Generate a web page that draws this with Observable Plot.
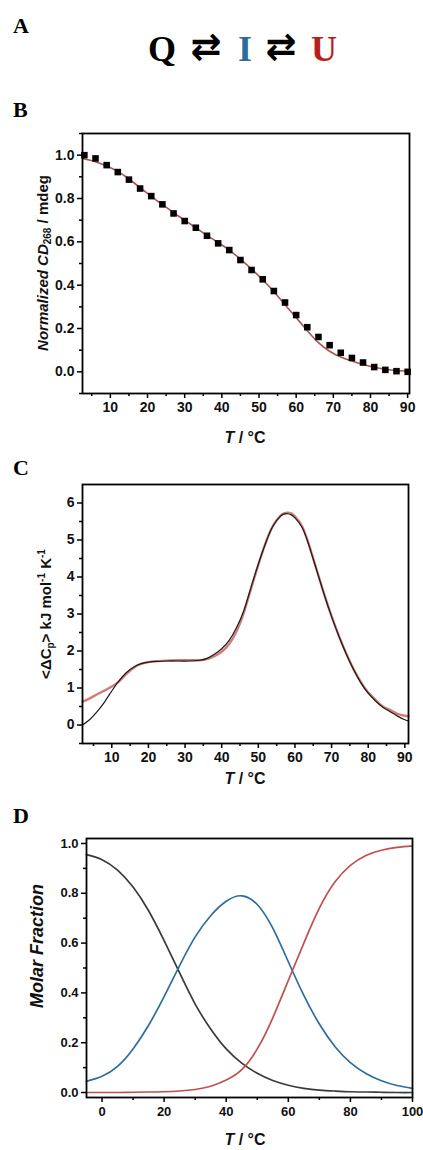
<!DOCTYPE html>
<html><head><meta charset="utf-8">
<script src="https://cdn.jsdelivr.net/npm/d3@7"></script>
<script src="https://cdn.jsdelivr.net/npm/@observablehq/plot@0.6"></script>
<style>
body{margin:0;background:#fff;}
#page{position:relative;width:423px;height:1150px;overflow:hidden;}
#page svg.plot{position:absolute;left:0;}
#overlay{position:absolute;left:0;top:0;pointer-events:none;}
</style></head><body><div id="page"></div>
<script>
// ---------- Panel B data ----------
const tempB = [3,6,9,12,15,18,21,24,27,30,33,36,39,42,45,48,51,54,57,60,63,66,69,72,75,78,81,84,87,90];
const cdB   = [1.0,0.985,0.954,0.922,0.887,0.846,0.811,0.773,0.731,0.696,0.665,0.628,0.593,0.562,0.516,0.47,0.427,0.373,0.32,0.262,0.206,0.161,0.123,0.088,0.064,0.043,0.022,0.009,0.003,0.0];
const fitTempB = [2.5,6,9,12,15,18,21,24,27,30,33,36,39,42,45,48,51,54,57,60,63,66,69,72,75,78,81,84,87,90.5];
const fitCdB   = [0.985,0.97,0.95,0.925,0.89,0.85,0.81,0.772,0.735,0.70,0.665,0.63,0.597,0.562,0.52,0.474,0.425,0.37,0.31,0.25,0.19,0.135,0.095,0.068,0.05,0.034,0.021,0.012,0.006,0.003];

// ---------- Panel C data ----------
const tempC = [2,4,6,8,10,12,14,16,18,20,22,25,28,31,34,36,38,40,42,44,46,48,50,52,54,56,57,58,59,60,62,64,66,68,70,72,74,76,78,80,82,84,86,88,90,91];
const cpExp = [0.0,0.15,0.36,0.62,0.92,1.2,1.42,1.57,1.66,1.7,1.72,1.73,1.73,1.73,1.75,1.8,1.91,2.06,2.28,2.62,3.08,3.72,4.35,4.92,5.38,5.64,5.7,5.71,5.68,5.6,5.33,4.8,4.16,3.52,2.93,2.4,1.92,1.5,1.14,0.86,0.65,0.48,0.36,0.24,0.14,0.11];
const cpFit = [0.63,0.72,0.83,0.93,1.04,1.18,1.38,1.55,1.65,1.7,1.72,1.74,1.75,1.75,1.75,1.78,1.86,1.98,2.18,2.52,3.02,3.68,4.33,4.92,5.38,5.65,5.72,5.74,5.72,5.64,5.36,4.82,4.17,3.53,2.94,2.41,1.93,1.51,1.16,0.88,0.68,0.5,0.4,0.3,0.25,0.235];

// ---------- Panel D data ----------
const tempD = [-5,0,5,10,15,20,25,30,35,40,45,50,55,60,65,70,75,80,85,90,95,100];
const fracQ = [0.955,0.935,0.893,0.825,0.73,0.61,0.48,0.355,0.255,0.175,0.118,0.077,0.048,0.029,0.017,0.01,0.006,0.003,0.002,0.001,0.0,0.0];
const fracI = [0.045,0.065,0.105,0.175,0.27,0.385,0.51,0.625,0.71,0.768,0.79,0.755,0.66,0.525,0.39,0.275,0.185,0.12,0.076,0.047,0.028,0.017];
const fracU = [0.0,0.0,0.0,0.001,0.002,0.003,0.006,0.012,0.025,0.05,0.092,0.175,0.3,0.45,0.6,0.74,0.845,0.912,0.952,0.973,0.984,0.99];

// ---------- Ticks ----------
const majorBx = [10,20,30,40,50,60,70,80,90];
const minorBx = [5,15,25,35,45,55,65,75,85];
const majorBy = [0,0.2,0.4,0.6,0.8,1.0];
const minorBy = [-0.1,0.1,0.3,0.5,0.7,0.9,1.1];
const majorCy = [0,1,2,3,4,5,6];
const minorCy = [-0.5,0.5,1.5,2.5,3.5,4.5,5.5];
const majorDx = [0,20,40,60,80,100];
const minorDx = [10,30,50,70,90];
const majorDy = [0,0.2,0.4,0.6,0.8,1.0];
const minorDy = [0.1,0.3,0.5,0.7,0.9];

const ptsB = tempB.map((T,i)=>({T, v: cdB[i]}));
const fitB = fitTempB.map((T,i)=>({T, v: fitCdB[i]}));
const expC = tempC.map((T,i)=>({T, v: cpExp[i]}));
const fitC = tempC.map((T,i)=>({T, v: cpFit[i]}));
const seriesD = [
  {name:"Q", vals: fracQ, color:"#3b3b3b"},
  {name:"I", vals: fracI, color:"#2f6d9e"},
  {name:"U", vals: fracU, color:"#c0504f"}
];
const dataD = seriesD.flatMap(s => tempD.map((T,i)=>({T, v: s.vals[i], s: s.name})));

const FONT = "Liberation Sans, Arial, Helvetica, sans-serif";
function axes(xMajor, xMinor, yMajor, yMinor, fmtY, fs) {
  const common = {stroke:"#000", strokeWidth:1.5, label:null};
  return [
    Plot.axisX({...common, ticks:xMajor, tickSize:5, tickPadding:4, tickFormat:d=>String(d), fill:"#111", fontSize:fs}),
    Plot.axisX({...common, ticks:xMinor, tickSize:3, fill:"none"}),
    Plot.axisY({...common, ticks:yMajor, tickSize:5, tickPadding:3, tickFormat:fmtY, fill:"#111", fontSize:fs}),
    Plot.axisY({...common, ticks:yMinor, tickSize:3, fill:"none"})
  ];
}
const style = {fontFamily: FONT, fontWeight:"bold", fontSize:"14px", background:"transparent", overflow:"visible"};

const plotB = Plot.plot({
  width:423, height:330, marginLeft:82, marginRight:14, marginTop:13, marginBottom:57,
  x:{domain:[2.5,90.5]}, y:{domain:[-0.1,1.1]}, style,
  marks:[
    Plot.line(fitB, {x:"T", y:"v", stroke:"#b0524e", strokeWidth:1.6, curve:"natural"}),
    Plot.dot(ptsB, {x:"T", y:"v", symbol:"square", fill:"#000", r:3.7}),
    Plot.frame({stroke:"#000", strokeWidth:1.8}),
    ...axes(majorBx, minorBx, majorBy, minorBy, d3.format(".1f"), 14)
  ]
});
const plotC = Plot.plot({
  width:423, height:320, marginLeft:82, marginRight:15, marginTop:14, marginBottom:47,
  x:{domain:[2,91]}, y:{domain:[-0.5,6.5]}, style,
  marks:[
    Plot.line(fitC, {x:"T", y:"v", stroke:"#d07d7a", strokeWidth:2.4, curve:"natural"}),
    Plot.line(expC, {x:"T", y:"v", stroke:"#1a1a1a", strokeWidth:1.2, curve:"natural"}),
    Plot.frame({stroke:"#000", strokeWidth:1.8}),
    ...axes(majorBx, minorBx, majorCy, minorCy, d=>String(d), 14)
  ]
});
const plotD = Plot.plot({
  width:423, height:325, marginLeft:86, marginRight:11, marginTop:13, marginBottom:53,
  x:{domain:[-5,100]}, y:{domain:[-0.02,1.02]}, style,
  color:{domain: seriesD.map(s=>s.name), range: seriesD.map(s=>s.color)},
  marks:[
    Plot.line(dataD, {x:"T", y:"v", z:"s", stroke:"s", strokeWidth:1.7, curve:"natural"}),
    Plot.frame({stroke:"#000", strokeWidth:1.8}),
    ...axes(majorDx, minorDx, majorDy, minorDy, d3.format(".1f"), 13)
  ]
});

const page = document.getElementById("page");
[[plotB,120],[plotC,470],[plotD,825]].forEach(([p,top])=>{
  p.classList.add("plot"); p.style.top = top+"px"; page.appendChild(p);
});

// ---------- Overlay text ----------
const ov = d3.select(page).append("svg").attr("id","overlay").attr("width",423).attr("height",1150);
const serif = "Liberation Serif, Times New Roman, serif";
[["A",33],["B",117],["C",475],["D",823]].forEach(([t,y])=>{
  ov.append("text").attr("x",13).attr("y",y).attr("font-family",serif).attr("font-weight","bold").attr("font-size",22).text(t);
});
// Reaction scheme
const rx = ov.append("g").attr("font-family",serif).attr("font-weight","bold").attr("font-size",36);
rx.append("text").attr("x",162).attr("y",61).attr("text-anchor","middle").attr("fill","#000").text("Q");
rx.append("text").attr("x",245).attr("y",61).attr("text-anchor","middle").attr("fill","#2c6ba0").text("I");
rx.append("text").attr("x",324).attr("y",61).attr("text-anchor","middle").attr("fill","#b51f1f").text("U");
[206,281].forEach(x=>{
  ov.append("text").attr("x",x).attr("y",59).attr("text-anchor","middle").attr("font-family","DejaVu Sans").attr("font-weight","bold").attr("font-size",37).attr("fill","#000").text("\u21C4");
});

function xTitle(x, y) {
  const t = ov.append("text").attr("x",x).attr("y",y).attr("text-anchor","middle").attr("font-family",FONT).attr("font-weight","bold").attr("font-size",16).attr("fill","#111");
  t.append("tspan").attr("font-style","italic").text("T");
  t.append("tspan").text(" / \u00B0C");
}
xTitle(245,443); xTitle(245,784); xTitle(245,1145);

// y title B
{
  const t = ov.append("text").attr("transform","translate(48,263) rotate(-90)").attr("text-anchor","middle").attr("font-family",FONT).attr("font-weight","bold").attr("font-size",15).attr("fill","#111");
  t.append("tspan").attr("font-style","italic").text("Normalized CD");
  t.append("tspan").attr("font-size",10).attr("dy",3).text("268");
  t.append("tspan").attr("dy",-3).text(" / mdeg");
}
// y title C
{
  const t = ov.append("text").attr("transform","translate(51,614) rotate(-90)").attr("text-anchor","middle").attr("font-family",FONT).attr("font-weight","bold").attr("font-size",15).attr("fill","#111");
  t.append("tspan").text("<\u0394C");
  t.append("tspan").attr("font-size",10).attr("dy",3).text("p");
  t.append("tspan").attr("dy",-3).text("> kJ mol");
  t.append("tspan").attr("font-size",10).attr("dy",-6).text("-1");
  t.append("tspan").attr("dy",6).text(" K");
  t.append("tspan").attr("font-size",10).attr("dy",-6).text("-1");
}
// y title D
ov.append("text").attr("transform","translate(43,946) rotate(-90)").attr("text-anchor","middle").attr("font-family",FONT).attr("font-weight","bold").attr("font-style","italic").attr("font-size",18).attr("fill","#111").text("Molar Fraction");
</script></body></html>
